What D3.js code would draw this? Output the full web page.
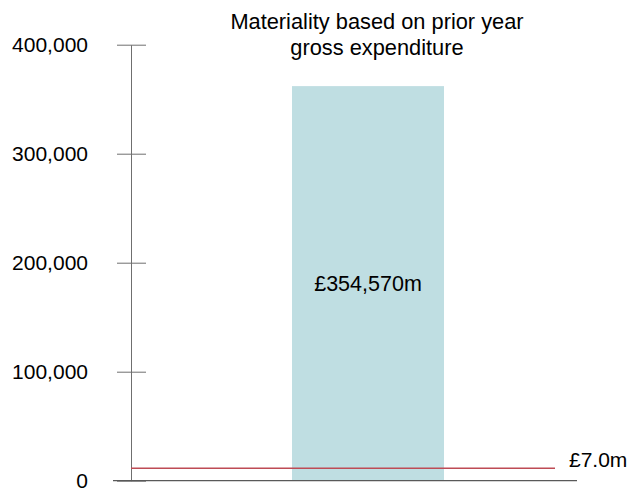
<!DOCTYPE html>
<html>
<head>
<meta charset="utf-8">
<script src="https://cdn.jsdelivr.net/npm/d3@7"></script>
<style>
body { margin: 0; background: #fff; }
text { font-family: "Liberation Sans", Arial, sans-serif; fill: #000; }
</style>
</head>
<body>
<div id="chart"></div>
<script>
// data
var categories = ["Gross expenditure"];
var barValues = [362000];
var barLabels = ["£354,570m"];
var materiality = 11400;
var materialityLabel = "£7.0m";
var yTicks = [0, 100000, 200000, 300000, 400000];
var titleLines = ["Materiality based on prior year", "gross expenditure"];

var width = 632, height = 489;

var svg = d3.select("#chart")
    .append("svg")
    .attr("width", width)
    .attr("height", height);

var y = d3.scaleLinear()
    .domain([0, 400000])
    .range([480.7, 44.7]);

var x = d3.scaleBand()
    .domain(categories)
    .range([292, 444])
    .padding(0);

// bar
svg.selectAll("rect.bar")
    .data(barValues)
    .enter()
    .append("rect")
    .attr("class", "bar")
    .attr("x", function (d, i) { return x(categories[i]); })
    .attr("y", function (d) { return y(d); })
    .attr("width", x.bandwidth())
    .attr("height", function (d) { return y(0) - y(d); })
    .attr("fill", "#bfdee2");

svg.selectAll("text.barlabel")
    .data(barValues)
    .enter()
    .append("text")
    .attr("class", "barlabel")
    .attr("x", function (d, i) { return x(categories[i]) + x.bandwidth() / 2; })
    .attr("y", function (d) { return y(d / 2) + 8; })
    .attr("text-anchor", "middle")
    .style("font-size", "21.5px")
    .text(function (d, i) { return barLabels[i]; });

// y axis
var yAxis = d3.axisLeft(y)
    .tickValues(yTicks)
    .tickSize(14)
    .tickSizeOuter(0)
    .tickPadding(29)
    .tickFormat(d3.format(","));

var gy = svg.append("g")
    .attr("transform", "translate(131,0)")
    .call(yAxis);

gy.select(".domain").attr("stroke", "#6f6f6f");
gy.selectAll(".tick line")
    .attr("x1", -14)
    .attr("x2", 15)
    .attr("stroke", "#6f6f6f");
gy.selectAll(".tick text")
    .style("font-size", "21px")
    .style("font-family", "Liberation Sans, Arial, sans-serif")
    .attr("fill", "#000");

// baseline
svg.append("line")
    .attr("x1", 113)
    .attr("x2", 577)
    .attr("y1", y(0))
    .attr("y2", y(0))
    .attr("stroke", "#595959")
    .attr("stroke-width", 1.3);

// materiality line
svg.append("line")
    .attr("x1", 131)
    .attr("x2", 555)
    .attr("y1", y(materiality))
    .attr("y2", y(materiality))
    .attr("stroke", "#be4b55")
    .attr("stroke-width", 1.3);

svg.append("text")
    .attr("x", 569)
    .attr("y", y(materiality) - 1)
    .style("font-size", "21px")
    .text(materialityLabel);

// title
svg.selectAll("text.title")
    .data(titleLines)
    .enter()
    .append("text")
    .attr("class", "title")
    .attr("x", 377)
    .attr("y", function (d, i) { return 29 + i * 26; })
    .attr("text-anchor", "middle")
    .style("font-size", "21.8px")
    .text(function (d) { return d; });
</script>
</body>
</html>
